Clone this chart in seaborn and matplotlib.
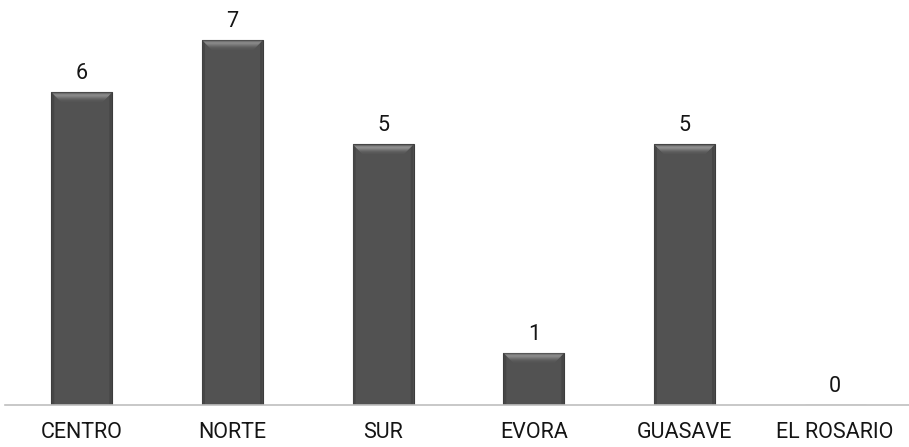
import matplotlib
matplotlib.use('Agg')
import matplotlib.pyplot as plt
from matplotlib.patches import Polygon
import seaborn as sns
import pandas as pd

zonas = ['CENTRO', 'NORTE', 'SUR', 'EVORA', 'GUASAVE', 'EL ROSARIO']
valores = [6, 7, 5, 1, 5, 0]

df = pd.DataFrame({'zona': zonas, 'valor': valores})

sns.set_style('white')
plt.rcParams['font.family'] = ['Roboto', 'DejaVu Sans']

fig = plt.figure(figsize=(9.09, 4.47), dpi=100)
ax = fig.add_axes([5 / 909, 42 / 447, 904 / 909, 401.5 / 447])

sns.barplot(data=df, x='zona', y='valor', color='#525252', width=0.405,
            edgecolor='#3c3c3c', linewidth=0.8, saturation=1, ax=ax)

# bisel superior estilo Excel (bandas de degradado)
px_x = 0.405 / 61
px_y = 1 / 52.14
tonos = ['#666666', '#8a8a8a', '#9c9c9c', '#959595', '#868686', '#767676', '#686868', '#5e5e5e', '#585858']
for p in ax.patches:
    h = p.get_height()
    if h <= 0:
        continue
    x0 = p.get_x()
    x1 = x0 + p.get_width()
    for s in (0, 1):
        xa = x0 + 0.5 * px_x if s == 0 else x1 - 0.5 * px_x
        xb = x0 + 3 * px_x if s == 0 else x1 - 3 * px_x
        side = Polygon([(xa, 0), (xa, h), (xb, h - 3 * px_y), (xb, 0)], closed=True,
                       facecolor='#464646', edgecolor='none', zorder=2.5)
        ax.add_patch(side)
    for k, c in enumerate(tonos):
        a, b = k + 0.5, k + 1.5
        band = Polygon([(x0 + a * px_x, h - a * px_y), (x1 - a * px_x, h - a * px_y),
                        (x1 - b * px_x, h - b * px_y), (x0 + b * px_x, h - b * px_y)],
                       closed=True, facecolor=c, edgecolor='none', zorder=3)
        ax.add_patch(band)

for i, v in enumerate(valores):
    ax.annotate(str(v), (i, v), xytext=(0, 9.5), textcoords='offset points',
                ha='center', va='baseline', fontsize=15.5, color='#151515')

ax.set_xlim(-0.51, 5.49)
ax.set_ylim(0, 7.7)
ax.set_xlabel('')
ax.set_ylabel('')
ax.set_yticks([])
ax.tick_params(axis='x', length=0, pad=12, labelsize=15.5, colors='#151515')
for s in ['top', 'right', 'left']:
    ax.spines[s].set_visible(False)
ax.spines['bottom'].set_color('#bfbfbf')
ax.spines['bottom'].set_linewidth(1.2)

plt.savefig('out.png', dpi=100)
plt.close()
